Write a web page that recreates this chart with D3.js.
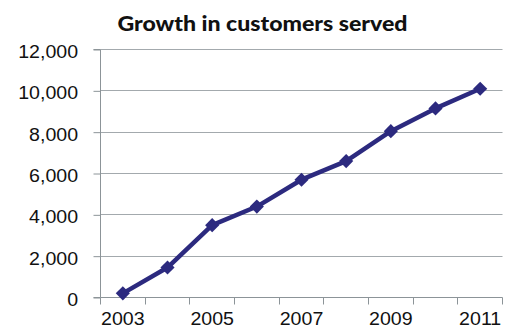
<!DOCTYPE html>
<html>
<head>
<meta charset="utf-8">
<script src="https://cdn.jsdelivr.net/npm/d3@7"></script>
<style>
  body { margin: 0; background: #fff; }
  svg { display: block; }
</style>
</head>
<body>
<div id="chart"></div>
<script>
// data
let years = ["2003", "2004", "2005", "2006", "2007", "2008", "2009", "2010", "2011"];
let customers = [200, 1450, 3500, 4400, 5700, 6600, 8050, 9150, 10100];
let yTicks = [0, 2000, 4000, 6000, 8000, 10000, 12000];
let xLabels = ["2003", "2005", "2007", "2009", "2011"];

let margin = { top: 49.5, right: 12.5, bottom: 35.5, left: 100.5 },
    width = 515 - margin.left - margin.right,
    height = 333 - margin.top - margin.bottom;

let svg = d3.select("#chart")
    .append("svg")
    .attr("width", 515)
    .attr("height", 333)
    .append("g")
    .attr("transform", "translate(" + margin.left + "," + margin.top + ")");

// title (slightly stretched like the original)
svg.append("text")
    .attr("x", 162 / 1.1)
    .attr("y", -19)
    .attr("text-anchor", "middle")
    .attr("transform", "scale(1.1,1)")
    .style("font-family", "Lato, 'Open Sans', sans-serif")
    .style("font-weight", "900")
    .style("font-size", "21px")
    .attr("fill", "#111")
    .text("Growth in customers served");

let x = d3.scaleBand().domain(years).range([0, width]);
let y = d3.scaleLinear().domain([0, 12000]).range([height, 0]);

// gridlines
svg.append("g")
    .selectAll("line")
    .data(yTicks.slice(1))
    .enter()
    .append("line")
    .attr("x1", 0)
    .attr("x2", width)
    .attr("y1", d => Math.round(y(d)))
    .attr("y2", d => Math.round(y(d)))
    .attr("stroke", "#a3a9ad")
    .attr("stroke-width", 1);

// y axis
let yAxis = svg.append("g")
    .call(d3.axisLeft(y).tickValues(yTicks).tickSize(7).tickPadding(13)
        .tickFormat(d3.format(",")));
yAxis.selectAll("line, path").attr("stroke", "#8c9498");
yAxis.select(".domain").attr("d", "M-7," + height + "H0V0H-7");
yAxis.selectAll("text")
    .style("font-family", "'Liberation Sans', Arial, sans-serif")
    .style("font-size", "17.5px")
    .attr("fill", "#111")
    .attr("dy", "0.45em")
    .attr("transform", "scale(1.12,1)");

// x axis, ticks between categories
let bounds = years.map(d => x(d)).concat([width]);
let xAxisG = svg.append("g").attr("transform", "translate(0," + height + ")");
xAxisG.append("line")
    .attr("x1", 0).attr("x2", width)
    .attr("stroke", "#8c9498");
xAxisG.selectAll(".tk")
    .data(bounds)
    .enter()
    .append("line")
    .attr("x1", d => Math.round(d))
    .attr("x2", d => Math.round(d))
    .attr("y1", 0).attr("y2", 7)
    .attr("stroke", "#8c9498");
xAxisG.selectAll(".lbl")
    .data(xLabels)
    .enter()
    .append("text")
    .attr("x", d => (x(d) + x.bandwidth() / 2) / 1.12)
    .attr("y", 28)
    .attr("text-anchor", "middle")
    .attr("transform", "scale(1.12,1)")
    .style("font-family", "'Liberation Sans', Arial, sans-serif")
    .style("font-size", "17.5px")
    .attr("fill", "#111")
    .text(d => d);

// line
let pts = years.map((d, i) => ({ year: d, value: customers[i] }));
svg.append("path")
    .datum(pts)
    .attr("fill", "none")
    .attr("stroke", "#2c2a7f")
    .attr("stroke-width", 4.5)
    .attr("stroke-linejoin", "round")
    .attr("d", d3.line()
        .x(d => x(d.year) + x.bandwidth() / 2)
        .y(d => y(d.value)));

// diamond markers
svg.selectAll(".marker")
    .data(pts)
    .enter()
    .append("path")
    .attr("d", d3.symbol().type(d3.symbolSquare).size(100))
    .attr("transform", d => "translate(" + (x(d.year) + x.bandwidth() / 2) + "," + y(d.value) + ") rotate(45)")
    .attr("fill", "#2c2a7f");
</script>
</body>
</html>
